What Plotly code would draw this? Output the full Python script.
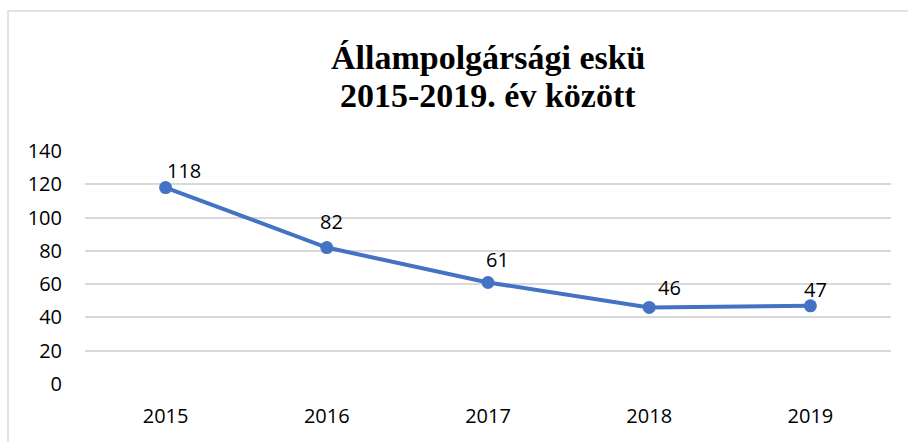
import plotly.graph_objects as go

years = ["2015", "2016", "2017", "2018", "2019"]
values = [118, 82, 61, 46, 47]
y_ticks = [0, 20, 40, 60, 80, 100, 120, 140]
title_lines = ["Állampolgársági eskü", "2015-2019. év között"]

# label placement (pixel offsets from each marker, like manually nudged Excel labels)
label_dx = [18, 5, 9, 20, 5]
label_dy = [8, 17, 13, 10, 7]

L, R, T, B = 85, 17, 151, 58
W, H = 908, 442
pw, ph = W - L - R, H - T - B

TICK_FONT = dict(family="Open Sans, Noto Sans, sans-serif", size=20, color="#000000")

fig = go.Figure(go.Scatter(
    x=years, y=values, mode="lines+markers",
    line=dict(color="#4472C4", width=4),
    marker=dict(color="#4472C4", size=13),
    cliponaxis=False, showlegend=False, hoverinfo="x+y",
))

def px_x(p):
    return (p - L) / pw

def px_y(p):
    return 1 - (p - T) / ph

for i, (v, dx, dy) in enumerate(zip(values, label_dx, label_dy)):
    fig.add_annotation(x=i, y=v, xref="x", yref="y", text=str(v), showarrow=False,
                       xanchor="center", yanchor="bottom", xshift=dx, yshift=dy - 6,
                       font=TICK_FONT)

title_centers = [57, 96]
for line, cy in zip(title_lines, title_centers):
    fig.add_annotation(x=0.5, y=px_y(cy), xref="paper", yref="paper", text="<b>" + line + "</b>",
                       showarrow=False, xanchor="center", yanchor="middle",
                       font=dict(family="Liberation Serif, Times New Roman, serif", size=34, color="#000000"))

fig.add_shape(type="rect", xref="paper", yref="paper",
              x0=px_x(8), x1=px_x(912), y0=px_y(446), y1=px_y(11),
              line=dict(color="#d9d9d9", width=1.5), fillcolor="rgba(0,0,0,0)", layer="below")

fig.update_layout(
    width=W, height=H,
    margin=dict(l=L, r=R, t=T, b=B),
    paper_bgcolor="white", plot_bgcolor="white",
    xaxis=dict(type="category", range=[-0.5, 4.5], showgrid=False, zeroline=False,
               showline=False, ticks="", ticklabelstandoff=18, tickfont=TICK_FONT),
    yaxis=dict(range=[0, 140], tickvals=y_ticks, showgrid=True, gridcolor="#d9d9d9", gridwidth=1.5,
               zeroline=False, showline=False, ticks="", ticklabelstandoff=22, tickfont=TICK_FONT),
)

fig.write_html("out.html", config={"displayModeBar": False},
               post_script="document.body.style.margin='0';document.body.style.overflow='hidden';")
